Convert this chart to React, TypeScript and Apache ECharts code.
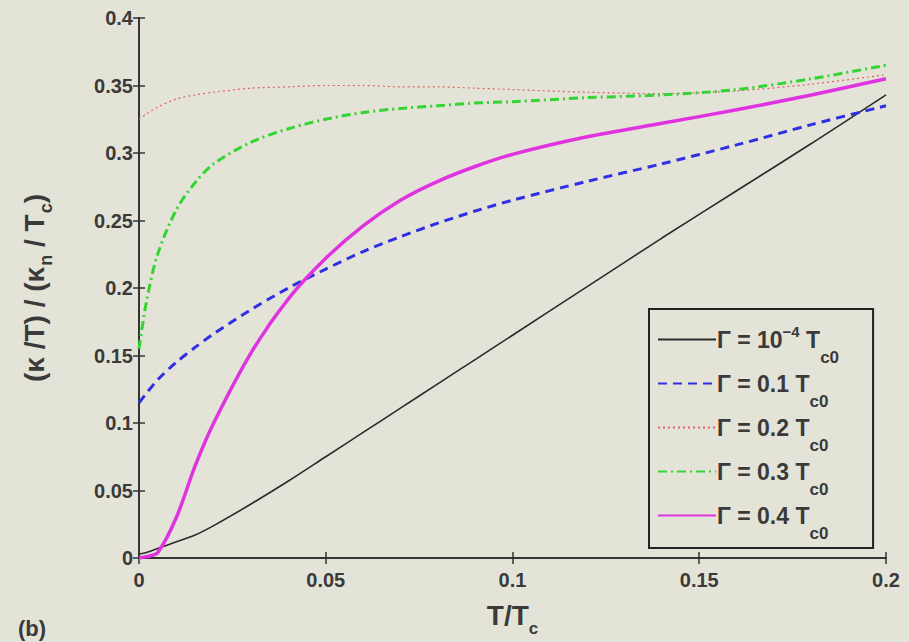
import React, { useEffect, useRef } from "react";
import * as echarts from "echarts";

const T = [0, 0.002, 0.005, 0.01, 0.015, 0.02, 0.03, 0.04, 0.05, 0.06, 0.07, 0.08, 0.09, 0.1, 0.12, 0.14, 0.16, 0.18, 0.2];
const gamma1e4 = [0.003, 0.004, 0.007, 0.012, 0.017, 0.024, 0.04, 0.057, 0.075, 0.093, 0.111, 0.129, 0.147, 0.165, 0.201, 0.237, 0.272, 0.307, 0.343];
const gamma01 = [0.115, 0.122, 0.132, 0.145, 0.156, 0.166, 0.184, 0.2, 0.214, 0.227, 0.238, 0.248, 0.257, 0.265, 0.279, 0.292, 0.306, 0.321, 0.335];
const gamma02 = [0.325, 0.329, 0.334, 0.34, 0.343, 0.345, 0.348, 0.349, 0.35, 0.35, 0.349, 0.349, 0.348, 0.347, 0.345, 0.344, 0.346, 0.351, 0.358];
const gamma03 = [0.155, 0.19, 0.225, 0.258, 0.278, 0.292, 0.308, 0.318, 0.325, 0.33, 0.333, 0.335, 0.337, 0.338, 0.341, 0.343, 0.347, 0.355, 0.365];
const gamma04 = [0, 0.001, 0.004, 0.03, 0.068, 0.1, 0.152, 0.192, 0.222, 0.246, 0.265, 0.279, 0.29, 0.299, 0.312, 0.322, 0.332, 0.343, 0.355];

const seriesNames = [
  "Γ = 10{sup|−4} T{sub|c0}",
  "Γ = 0.1 T{sub|c0}",
  "Γ = 0.2 T{sub|c0}",
  "Γ = 0.3 T{sub|c0}",
  "Γ = 0.4 T{sub|c0}",
];

const FONT = "Liberation Sans, Arial, sans-serif";
const TXT = "#3a3a3a";
const BG = "#e4e3d7";

export default function App() {
  const ref = useRef<HTMLDivElement>(null);
  useEffect(() => {
    if (!ref.current) return;
    const chart = echarts.init(ref.current, null, { renderer: "svg" });
    const mk = (vals: number[]) => T.map((t, i) => [t, vals[i]]);
    const styles = [
      { color: "#2b2b2b", width: 1.6, type: "solid" as any },
      { color: "#2f2fe6", width: 3, type: [9, 6] as any },
      { color: "#e06262", width: 1.2, type: [2, 3] as any },
      { color: "#33d433", width: 3, type: [9, 4, 2, 4] as any },
      { color: "#e033e0", width: 3.5, type: "solid" as any },
    ];
    const datas = [gamma1e4, gamma01, gamma02, gamma03, gamma04];
    const axisLine = { show: true, lineStyle: { color: "#333", width: 2 } };
    const tick = { show: true, inside: true, length: 6, lineStyle: { color: "#333", width: 1.5 } };
    const label = { color: TXT, fontFamily: FONT, fontWeight: "bold" as any, fontSize: 20 };
    chart.setOption({
      animation: false,
      backgroundColor: BG,
      grid: { left: 139, right: 23, top: 18, bottom: 76, containLabel: false },
      xAxis: [
        {
          type: "value", min: 0, max: 0.2, interval: 0.05, position: "bottom",
          axisLine, axisTick: tick, splitLine: { show: false },
          axisLabel: { ...label, margin: 12 },
          name: "T/T{sub|c}", nameLocation: "middle", nameGap: 36,
          nameTextStyle: {
            color: TXT, fontFamily: FONT, fontWeight: "bold", fontSize: 28,
            rich: { sub: { fontFamily: FONT, fontWeight: "bold", fontSize: 17, color: TXT, padding: [26, 0, 0, 0] } },
          },
        },
        {
          type: "value", min: 0, max: 0.2, interval: 0.05, position: "top",
          axisLine, axisTick: tick, splitLine: { show: false }, axisLabel: { show: false },
        },
      ],
      yAxis: [
        {
          type: "value", min: 0, max: 0.4, interval: 0.05, position: "left",
          axisLine, axisTick: tick, splitLine: { show: false },
          axisLabel: { ...label, margin: 6 },
          name: "(κ /T) / (κ{sub|n} / T{sub|c})", nameLocation: "middle", nameRotate: 90, nameGap: 84,
          nameTextStyle: {
            color: TXT, fontFamily: FONT, fontWeight: "bold", fontSize: 28,
            rich: { sub: { fontFamily: FONT, fontWeight: "bold", fontSize: 18, color: TXT, padding: [24, 0, 0, 1] } },
          },
        },
        {
          type: "value", min: 0, max: 0.4, interval: 0.05, position: "right",
          axisLine, axisTick: tick, splitLine: { show: false }, axisLabel: { show: false },
        },
      ],
      legend: {
        orient: "vertical",
        left: 649, top: 309,
        padding: [15, 34, 6, 8],
        itemGap: 6,
        itemWidth: 58,
        itemHeight: 14,
        borderColor: "#222", borderWidth: 2,
        backgroundColor: BG,
        itemStyle: { color: "rgba(0,0,0,0)", borderWidth: 0, opacity: 0 },
        textStyle: {
          color: TXT, fontFamily: FONT, fontWeight: "bold", fontSize: 23, padding: [0, 0, 0, -4],
          rich: {
            sup: { fontFamily: FONT, fontWeight: "bold", fontSize: 15, color: TXT, padding: [0, 0, 16, 0] },
            sub: { fontFamily: FONT, fontWeight: "bold", fontSize: 17, color: TXT, padding: [36, 0, 0, 0] },
          },
        },
        data: seriesNames,
      },
      series: datas.map((d, i) => ({
        name: seriesNames[i],
        type: "line",
        data: mk(d),
        symbol: "none",
        smooth: 0.3,
        lineStyle: styles[i],
        itemStyle: { color: styles[i].color },
        z: i === 4 ? 3 : 2,
      })),
      graphic: [
        { type: "text", left: 18, top: 617, style: { text: "(b)", fill: TXT, font: `bold 22px ${FONT}` } },
      ],
    });
    return () => chart.dispose();
  }, []);
  return <div ref={ref} style={{ width: 909, height: 642, position: "absolute", left: 0, top: 0 }} />;
}
